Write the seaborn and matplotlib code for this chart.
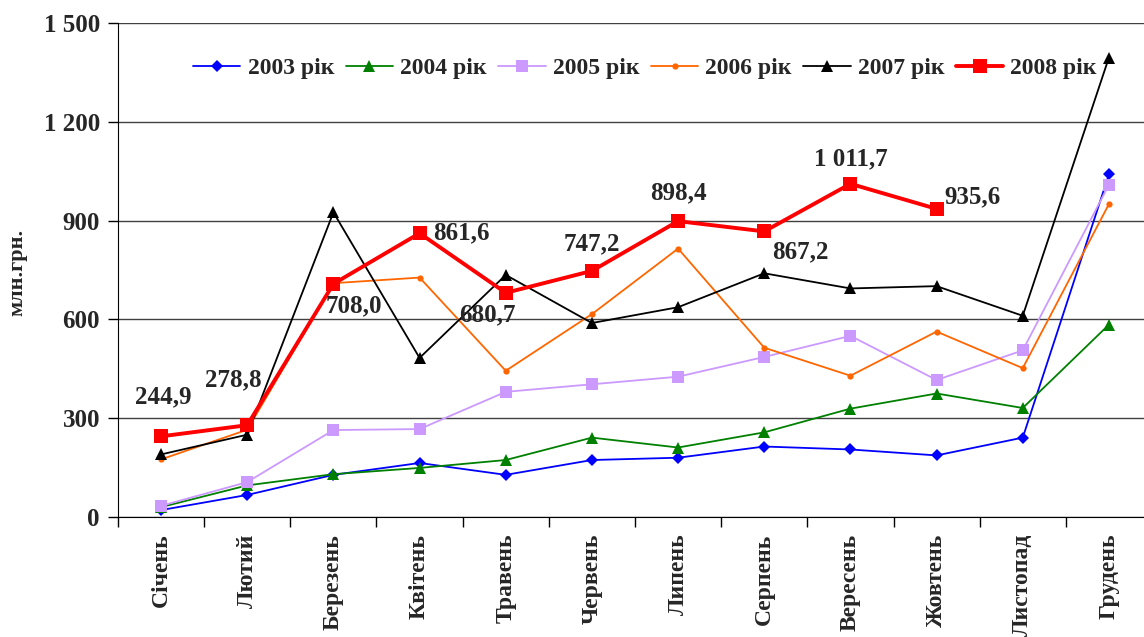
import numpy as np
import pandas as pd
import matplotlib
matplotlib.use("Agg")
import matplotlib.pyplot as plt
import seaborn as sns

# data (млн.грн.)
months = ["Січень", "Лютий", "Березень", "Квітень", "Травень", "Червень",
          "Липень", "Серпень", "Вересень", "Жовтень", "Листопад", "Грудень"]
y2003 = [21, 67, 128, 164, 128, 173, 180, 214, 205, 187, 241, 1040]
y2004 = [30, 96, 130, 149, 173, 241, 211, 257, 329, 375, 331, 584]
y2005 = [34, 106, 264, 267, 380, 403, 426, 486, 550, 416, 506, 1009]
y2006 = [175, 265, 710, 727, 444, 616, 815, 514, 429, 563, 452, 950]
y2007 = [190, 250, 925, 483, 735, 589, 637, 740, 694, 701, 611, 1395]
y2008 = [244.9, 278.8, 708.0, 861.6, 680.7, 747.2, 898.4, 867.2, 1011.7, 935.6, np.nan, np.nan]
labels_2008 = ["244,9", "278,8", "708,0", "861,6", "680,7", "747,2",
               "898,4", "867,2", "1 011,7", "935,6"]
series_names = ["2003 рік", "2004 рік", "2005 рік", "2006 рік", "2007 рік", "2008 рік"]
yticks = [0, 300, 600, 900, 1200, 1500]
ytick_labels = ["0", "300", "600", "900", "1 200", "1 500"]

sns.set_style("ticks")
plt.rcParams["font.family"] = ["Liberation Serif", "DejaVu Serif"]
plt.rcParams["font.weight"] = "bold"

fig = plt.figure(figsize=(11.44, 6.37), dpi=100)
W, H = 1144, 637
ax = fig.add_axes([118 / W, 1 - 517 / H, (1152 - 118) / W, (517 - 23) / H])

styles = [
    dict(color="#0000FF", marker="D", markersize=6.5, linewidth=1.3),
    dict(color="#008000", marker="^", markersize=8.5, linewidth=1.3),
    dict(color="#CC99FF", marker="s", markersize=9, linewidth=1.3),
    dict(color="#FF6600", marker="o", markersize=4.5, linewidth=1.3),
    dict(color="#000000", marker="^", markersize=8.5, linewidth=1.3),
    dict(color="#FF0000", marker="s", markersize=10, linewidth=2.8),
]
x = np.arange(len(months))
for name, vals, st in zip(series_names, [y2003, y2004, y2005, y2006, y2007, y2008], styles):
    df = pd.DataFrame({"x": x, "y": vals}).dropna()
    sns.lineplot(data=df, x="x", y="y", ax=ax, label=name, markeredgewidth=0, **st)

# labels for 2008 series (offsets in pixels)
offsets = [(2, 40), (-14, 45), (20, -22), (42, 0), (-18, -22), (0, 27),
           (0, 28), (36, -20), (0, 25), (36, 12)]
for i, (lab, off) in enumerate(zip(labels_2008, offsets)):
    ax.annotate(lab, (x[i], y2008[i]), xytext=off, textcoords="offset pixels",
                ha="center", va="center", fontsize=18, fontweight="bold")

ax.set_xlim(-0.5, 11.5)
ax.set_ylim(0, 1500)
ax.set_yticks(yticks)
ax.set_yticklabels(ytick_labels, fontsize=18, fontweight="bold")
ax.set_xticks(x)
ax.set_xticklabels(months, rotation=90, fontsize=17, fontweight="bold")
ax.set_xticks(np.arange(-0.5, 12, 1), minor=True)
ax.tick_params(axis="x", which="major", length=0, pad=12)
ax.tick_params(axis="x", which="minor", length=7, width=1, color="black", direction="out")
ax.tick_params(axis="y", length=7, width=1, color="black", direction="out", pad=6)
ax.set_xlabel("")
ax.set_ylabel("")
ax.grid(axis="y", color="#404040", linewidth=1)
ax.set_axisbelow(True)
for s in ["top", "right"]:
    ax.spines[s].set_visible(False)
ax.spines["left"].set_color("black")
ax.spines["bottom"].set_color("black")

fig.text(17 / W, 1 - 272 / H, "млн.грн.", rotation=90, ha="center", va="center",
         fontsize=16, fontweight="bold")

ax.legend(loc="center", bbox_to_anchor=(645 / W, 1 - 68 / H), bbox_transform=fig.transFigure,
          ncol=6, frameon=False, prop={"size": 17, "weight": "bold"},
          handlelength=2.0, columnspacing=0.5, handletextpad=0.3)

fig.savefig("out.png", dpi=100)
